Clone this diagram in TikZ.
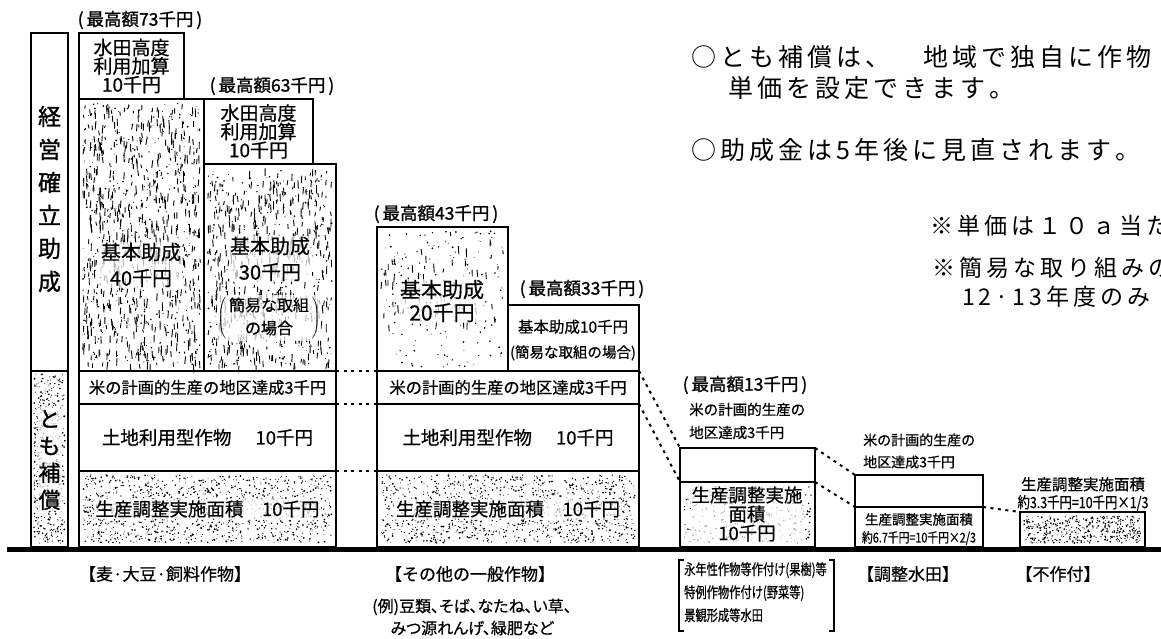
\documentclass[tikz,border=0pt]{standalone}
\usepackage{fontspec}
\setmainfont[FakeBold=0.6]{Noto Sans CJK JP}
\newfontfamily\jpr{Noto Sans CJK JP}
\newfontfamily\jph[FakeBold=1.2]{Noto Sans CJK JP}
\newfontfamily\jpn[FakeStretch=0.8,FakeBold=0.6]{Noto Sans CJK JP}
\newfontfamily\jpq[FakeStretch=0.75,FakeBold=0.6]{Noto Sans CJK JP}
\newfontfamily\jpp[RawFeature=+palt,FakeBold=0.6]{Noto Sans CJK JP}
\newcommand\fsz[2]{\fontsize{#1pt}{#2pt}\selectfont}
\newlength\lspgap
\def\lsp#1{\lspaux#1\relax}
\def\lspaux#1{\ifx\relax#1\else#1\hspace{\lspgap}\expandafter\lspaux\fi}
\newcommand\stipdots[5]{\foreach \sn in {1,...,#5}{\pgfmathsetmacro\sprad{0.4+0.6*rnd}\fill ({#1+#3*rnd},{#2+#4*rnd}) circle[radius=\sprad pt];}}
\newcommand\stipstreaks[5]{\foreach \sn in {1,...,#5}{\pgfmathsetmacro\splen{2+7*rnd}\draw[line width=0.9pt] ({#1+#3*rnd},{#2+#4*rnd}) -- ++({0.9*rand},\splen);}}
\begin{document}
\begin{tikzpicture}[x=1pt,y=-1pt,
  bx/.style={draw,line width=1.8pt,anchor=north west,inner sep=0pt,outer sep=0pt},
  tx/.style={inner sep=1pt,align=center},
  txw/.style={tx,fill=white,fill opacity=0.7,text opacity=1},
  dotc/.style={line width=2pt,dash pattern=on 3pt off 4.5pt},
  maxlbl/.style={tx,font={\jph\fsz{17.5}{20}}},
  bigtext/.style={anchor=west,inner sep=0pt}]
\useasboundingbox (0,0) rectangle (1161,639);
\clip (0,0) rectangle (1161,639);
\fill[white] (0,0) rectangle (1161,639);
\pgfmathsetseed{4242}
% textures
\stipdots{34}{374}{31}{171}{420}
\stipstreaks{83}{103}{117}{262}{650}
\stipdots{83}{103}{117}{262}{300}
\stipstreaks{208}{168}{124}{198}{480}
\stipdots{208}{168}{124}{198}{220}
\stipdots{381}{231}{123}{136}{170}
\stipstreaks{381}{231}{123}{100}{70}
\stipdots{83}{475}{249}{68}{1100}
\stipdots{381}{475}{254}{68}{1100}
\stipdots{684}{486}{127}{57}{330}
\stipdots{1024}{516}{117}{27}{420}
% boxes
\node[bx,minimum width=37pt,minimum height=338pt] (colT) at (31,33) {};
\node[bx,minimum width=37pt,minimum height=176pt] (colB) at (31,371) {};
\node[bx,minimum width=105pt,minimum height=66pt] (A) at (79,33) {};
\node[bx,minimum width=125pt,minimum height=272pt] (B) at (79,99) {};
\node[bx,minimum width=109pt,minimum height=65pt] (C) at (204,99) {};
\node[bx,minimum width=132pt,minimum height=207pt] (D) at (204,164) {};
\node[bx,minimum width=257pt,minimum height=33pt] (R1) at (79,371) {};
\node[bx,minimum width=257pt,minimum height=67pt] (L1) at (79,404) {};
\node[bx,minimum width=257pt,minimum height=76pt] (S1) at (79,471) {};
\node[bx,minimum width=131pt,minimum height=144pt] (E) at (377,227) {};
\node[bx,minimum width=131pt,minimum height=66pt] (F) at (508,305) {};
\node[bx,minimum width=262pt,minimum height=33pt] (R2) at (377,371) {};
\node[bx,minimum width=262pt,minimum height=67pt] (L2) at (377,404) {};
\node[bx,minimum width=262pt,minimum height=76pt] (S2) at (377,471) {};
\node[bx,minimum width=135pt,minimum height=34pt] (G) at (680,448) {};
\node[bx,minimum width=135pt,minimum height=65pt] (H) at (680,482) {};
\node[bx,minimum width=128pt,minimum height=32pt] (I) at (855,475) {};
\node[bx,minimum width=128pt,minimum height=40pt] (J) at (855,507) {};
\node[bx,minimum width=125pt,minimum height=35pt] (K) at (1020,512) {};
% connectors
\draw[dotc] (R1.north east) -- (R2.north west);
\draw[dotc] (L1.north east) -- (L2.north west);
\draw[dotc] (S1.north east) -- (S2.north west);
\draw[dotc] (R2.north east) -- (G.north west);
\draw[dotc] (L2.north east) -- (H.north west);
\draw[dotc] (G.north east) -- (I.north west);
\draw[dotc] (H.north east) -- (J.north west);
\draw[dotc] (J.north east) -- (K.north west);
% baseline
\coordinate (bl) at (7,549);
\coordinate (br) at (1161,549);
\draw[line width=5pt] (bl) -- (br);
% column texts
\node[tx,font={\jph\fsz{23}{33}}] (colTt) at (49.5,199) {経\\営\\確\\立\\助\\成};
\node[txw,font={\jph\fsz{22}{27}}] (colBt) at (49.5,460) {と\\も\\補\\償};
% group 1
\node[maxlbl] (m73) at (140,20) {(\,最高額73千円\,)};
\node[tx,font={\fsz{19}{18.5}}] (tA) at (A.center) {水田高度\\利用加算\\10千円};
\node[maxlbl] (m63) at (272,86) {(\,最高額63千円\,)};
\node[tx,font={\fsz{19}{18.5}}] (tC) at (C.center) {水田高度\\利用加算\\10千円};
\node[txw,font={\fsz{20}{26}}] (tB) at (141,265) {基本助成\\40千円};
\node[txw,font={\fsz{20}{26}}] (tD1) at (270,259) {基本助成\\30千円};
\node[txw,inner sep=0pt,font={\fsz{16}{23}}] (tD2) at (269,318) {$\left(\,\vcenter{\hbox{\fsz{16}{23}\begin{tabular}{@{}c@{}}簡易な取組\\の場合\end{tabular}}}\,\right)$};
\node[tx,font={\fsz{16.3}{20}}] (tR1) at (R1.center) {米の計画的生産の地区達成3千円};
\node[tx,font={\fsz{18.5}{20}}] (tL1) at (L1.center) {土地利用型作物\hspace{1.3em}10千円};
\node[txw,font={\fsz{18.5}{20}}] (tS1) at (S1.center) {生産調整実施面積\hspace{1em}10千円};
% group 2
\node[maxlbl] (m43) at (436,214) {(\,最高額43千円\,)};
\node[txw,font={\fsz{21}{23}}] (tE) at (442,301) {基本助成\\20千円};
\node[maxlbl] (m33) at (582,289) {(\,最高額33千円\,)};
\node[tx,font={\fsz{15.5}{25}}] (tF) at (573,340) {基本助成10千円\\{\fsz{14.5}{25}(簡易な取組の場合)}};
\node[tx,font={\fsz{16.3}{20}}] (tR2) at (R2.center) {米の計画的生産の地区達成3千円};
\node[tx,font={\fsz{18.5}{20}}] (tL2) at (L2.center) {土地利用型作物\hspace{1.3em}10千円};
\node[txw,font={\fsz{18.5}{20}}] (tS2) at (S2.center) {生産調整実施面積\hspace{1em}10千円};
% group 3
\node[maxlbl] (m13) at (745,385) {(\,最高額13千円\,)};
\node[tx,align=left,anchor=west,font={\fsz{14.5}{23}}] (g3l) at (688,421) {米の計画的生産の\\地区達成3千円};
\node[txw,font={\fsz{18.5}{19}}] (tH) at (747,514) {生産調整実施\\面積\\10千円};
% group 4
\node[tx,align=left,anchor=west,font={\fsz{14}{22}}] (g4l) at (862,451) {米の計画的生産の\\地区達成3千円};
\node[tx,font={\fsz{13.5}{18}}] (tJ) at (919,529) {生産調整実施面積\\{\jpn 約6.7千円=10千円×2/3}};
% group 5
\node[tx,font={\fsz{15.5}{18}}] (g5l) at (1083,494) {生産調整実施面積\\{\jpn 約3.3千円=10千円×1/3}};
% notes
\node[bigtext,font={\jpr\fsz{25}{30}}] (n1) at (691,57) {\setlength\lspgap{4pt}\lsp{○とも補償は、　地域で独自に作物}};
\node[bigtext,font={\jpr\fsz{25}{30}}] (n2) at (728,88) {\setlength\lspgap{4pt}\lsp{単価を設定できます。}};
\node[bigtext,font={\jpr\fsz{25}{30}}] (n3) at (691,150) {\setlength\lspgap{4pt}\lsp{○助成金は5年後に見直されます。}};
\node[bigtext,font={\jpr\fsz{23}{28}}] (n4) at (930,226) {\setlength\lspgap{4pt}\lsp{※単価は１０ａ当た}};
\node[bigtext,font={\jpr\fsz{23}{28}}] (n5) at (932,268) {\setlength\lspgap{4pt}\lsp{※簡易な取り組みの}};
\node[bigtext,font={\jpr\fsz{23}{28}}] (n6) at (962,297) {\setlength\lspgap{4pt}\lsp{12·13年度のみ}};
% bottom labels
\node[tx,font={\fsz{17}{20}}] (lab1) at (165,574) {【麦·大豆·飼料作物】};
\node[tx,font={\fsz{17}{20}}] (lab2) at (470,574) {【その他の一般作物】};
\node[tx,font={\jpp\fsz{16}{22}}] (ex) at (472,617) {(例)豆類、そば、なたね、い草、\\みつ源れんげ、緑肥など};
\node[tx,align=left,anchor=north west,font={\jpq\fsz{15}{23}}] (perm) at (683,561) {永年性作物等作付け(果樹)等\\特例作物作付け(野菜等)\\景観形成等水田};
\draw[line width=2.5pt] (684,560) -- (679,560) -- (679,631) -- (684,631);
\draw[line width=2.5pt] (829,560) -- (834,560) -- (834,631) -- (829,631);
\node[tx,font={\fsz{17}{20}}] (lab4) at (908,574) {【調整水田】};
\node[tx,font={\fsz{17}{20}}] (lab5) at (1058,574) {【不作付】};
\end{tikzpicture}
\end{document}
